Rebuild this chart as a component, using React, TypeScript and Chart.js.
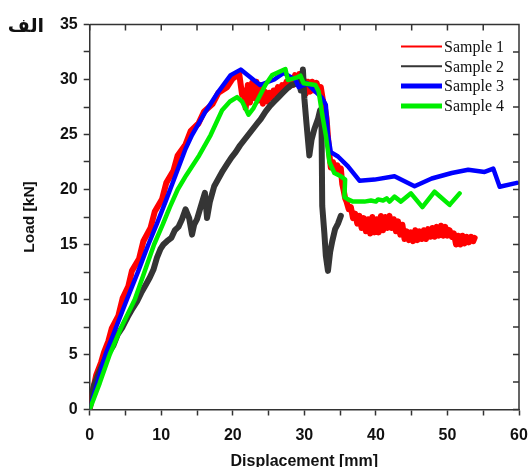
import { useEffect, useRef } from 'react';
import { Chart, registerables } from 'chart.js';

Chart.register(...registerables);

const seriesNames = ['Sample 1', 'Sample 2', 'Sample 3', 'Sample 4'];
const seriesColors = ['#ff0000', '#353535', '#0000ff', '#00ee00'];
const xTickLabels = ['0', '10', '20', '30', '40', '50', '60'];
const yTickLabels = ['0', '5', '10', '15', '20', '25', '30', '35'];
const cornerLabel = 'الف';
const xTitle = 'Displacement [mm]';
const yTitle = 'Load [kN]';

const sample1: [number, number][] = [
  [0, 0], [0.6, 2.2], [0.9, 3.1], [1.6, 4.3], [2.0, 5.2], [2.6, 6.2], [3.1, 7.4], [4.0, 8.5],
  [4.6, 10.1], [5.4, 11.2], [5.9, 12.6], [6.9, 13.7], [7.5, 15.3], [8.5, 16.5], [9.1, 18.0], [10.1, 19.1],
  [10.7, 20.6], [11.7, 21.7], [12.3, 23.1], [13.4, 24.1], [14.1, 25.3], [15.2, 26.0], [16.0, 27.1], [17.2, 27.8],
  [18.0, 28.8], [19.2, 29.3], [20.0, 30.1], [20.9, 30.5],
  [21.3, 28.6], [21.6, 29.0], [21.8, 27.4], [22.1, 29.5], [22.4, 27.9], [22.7, 29.7], [23.0, 28.3],
  [23.3, 29.8], [23.6, 28.1], [23.9, 29.5], [24.2, 27.8], [24.5, 28.9], [24.8, 28.0], [25.1, 28.8], [25.4, 28.3],
  [25.7, 29.0], [26.0, 28.7], [26.3, 29.3], [26.6, 28.9], [26.9, 29.5], [27.2, 29.1], [27.5, 29.8], [27.8, 29.3],
  [28.1, 30.1], [28.4, 29.5], [28.7, 30.4], [29.0, 29.6], [29.3, 30.5], [29.6, 29.4], [29.9, 30.0], [30.2, 28.7],
  [30.5, 29.8], [30.8, 28.9], [31.1, 29.8], [31.4, 29.0], [31.7, 29.7], [32.0, 29.1], [32.3, 29.3], [32.6, 28.1],
  [32.9, 27.3], [33.1, 26.5], [33.3, 24.8], [33.5, 23.2], [33.7, 22.0], [34.0, 22.5], [34.3, 21.7], [34.6, 22.2],
  [34.9, 21.8], [35.1, 21.9], [35.3, 20.5], [35.5, 19.9], [35.7, 19.2],
  [35.9, 18.9], [36.2, 18.2], [36.5, 18.4], [36.8, 17.4], [37.1, 17.8], [37.4, 16.9], [37.7, 17.6], [38.0, 16.5],
  [38.3, 17.4], [38.6, 16.2], [38.9, 17.3], [39.2, 16.0], [39.5, 17.5], [39.8, 16.1], [40.1, 17.3], [40.4, 16.1],
  [40.7, 17.6], [41.0, 16.3], [41.3, 17.5], [41.6, 16.5], [41.9, 17.6], [42.2, 16.5], [42.5, 17.3], [42.8, 16.2],
  [43.1, 17.1], [43.4, 15.9], [43.7, 16.8], [44.0, 15.5], [44.3, 16.2], [44.6, 15.4], [44.9, 16.1], [45.2, 15.3],
  [45.5, 16.3], [45.8, 15.4], [46.1, 16.2], [46.4, 15.5], [46.7, 16.3], [47.0, 15.5], [47.3, 16.4], [47.6, 15.7],
  [47.9, 16.5], [48.2, 15.7], [48.5, 16.6], [48.8, 15.8], [49.1, 16.7], [49.4, 15.8], [49.7, 16.6], [50.0, 15.8],
  [50.3, 16.3], [50.6, 15.7], [50.9, 16.0], [51.2, 15.0], [51.5, 15.8], [51.8, 15.0], [52.1, 15.8], [52.4, 15.1],
  [52.7, 15.7], [53.0, 15.2], [53.3, 15.7], [53.6, 15.3], [53.8, 15.6],
];

const sample2: [number, number][] = [
  [0, 0.5], [0.6, 2.2], [1.2, 3.2], [2.0, 4.4], [2.7, 5.2], [3.3, 5.8], [3.9, 6.8], [4.6, 7.5],
  [5.3, 8.4], [6.0, 9.2], [6.6, 9.8], [7.2, 10.6], [7.8, 11.3], [8.4, 12.0], [8.9, 12.7], [9.4, 13.8],
  [9.9, 14.6], [10.3, 15.0], [10.8, 15.3], [11.4, 15.6], [11.9, 16.3], [12.4, 16.6], [12.9, 17.3],
  [13.4, 18.2], [13.9, 17.4], [14.3, 15.9], [14.6, 16.8], [15.0, 17.3], [15.5, 18.4], [16.1, 19.7], [16.4, 17.4],
  [16.8, 18.9], [17.4, 20.3], [18.0, 21.0], [18.6, 21.7], [19.2, 22.3], [19.8, 22.9], [20.4, 23.4], [21.0, 24.0],
  [21.6, 24.5], [22.2, 25.0], [22.8, 25.5], [23.4, 26.0], [23.9, 26.4], [24.6, 27.1], [25.2, 27.6], [25.8, 28.0],
  [26.4, 28.4], [27.0, 28.8], [27.6, 29.2], [28.2, 29.5], [28.8, 29.6], [29.3, 29.8], [29.5, 29.0], [29.8, 30.9],
  [30.0, 28.3], [30.3, 26.0], [30.7, 23.1], [31.0, 24.5], [31.4, 25.5], [31.9, 26.4], [32.2, 27.2], [32.4, 26.0],
  [32.5, 18.5], [32.8, 16.0], [33.0, 14.0], [33.3, 12.6], [33.6, 14.3], [33.9, 15.3], [34.3, 16.4], [34.7, 16.9],
  [35.1, 17.6],
];

const sample3: [number, number][] = [
  [0, 0], [1.1, 2.5], [2.2, 5.0], [3.7, 7.5], [5.2, 10.0], [6.8, 12.6], [8.2, 15.0], [9.4, 16.9],
  [10.6, 18.9], [12.0, 21.3], [13.4, 23.7], [14.3, 24.95], [16.2, 27.1], [18.0, 28.9], [19.7, 30.4], [21.1, 30.9],
  [23.8, 29.5], [25.8, 30.0], [27.1, 30.6], [28.8, 29.95], [29.2, 29.3], [30.4, 29.65], [31.3, 29.05], [32.5, 28.3],
  [33.0, 27.7], [33.3, 25.0], [33.7, 23.4], [34.7, 23.0], [36.1, 22.1], [37.7, 20.8], [39.8, 20.9],
  [42.6, 21.2], [45.4, 20.3], [47.8, 21.0], [50.6, 21.5], [52.9, 21.8], [55.2, 21.6], [56.4, 21.9], [57.3, 20.25],
  [59.7, 20.6],
];

const sample4: [number, number][] = [
  [0, 0], [1.4, 2.4], [2.8, 5.0], [4.5, 7.6], [6.3, 10.0], [7.7, 12.6], [9.0, 15.0], [10.2, 16.8],
  [11.2, 18.4], [12.3, 20.0], [13.5, 21.3], [15.3, 23.1], [16.9, 24.95], [18.5, 27.2], [19.6, 28.0], [20.6, 28.4],
  [21.3, 28.0], [22.2, 26.8], [22.9, 27.4], [24.55, 29.5], [25.5, 30.4], [27.35, 30.95], [27.7, 29.95], [29.0, 30.2],
  [29.45, 30.35], [29.9, 29.65], [31.55, 29.5], [32.0, 28.9], [32.5, 26.8], [33.0, 24.95], [33.5, 22.5], [34.2, 21.5],
  [35.1, 21.2], [35.7, 20.9], [35.6, 19.3], [36.1, 19.1], [36.8, 18.9], [38.4, 18.9], [39.3, 19.0], [40.0, 18.9],
  [40.3, 19.1], [41.0, 19.0], [41.5, 19.2], [41.9, 18.9], [42.6, 19.35], [43.5, 18.9], [44.9, 19.65], [46.5, 18.4],
  [48.2, 19.8], [50.3, 18.6], [51.7, 19.65],
];

const seriesData = [sample1, sample2, sample3, sample4];
const lineWidths = [6, 6, 4.5, 4.5];
const legendWidths = [2, 2, 5, 5];
const drawOrder = [3, 2, 1, 0];

const AXIS = '#333333';
const SANS = '"Liberation Sans", Arial, sans-serif';

const decorPlugin = {
  id: 'decor',
  afterDraw(chart: any) {
    const { ctx, chartArea } = chart;
    const { left, right, top, bottom } = chartArea;
    const xs = chart.scales.x;
    const ys = chart.scales.y;
    ctx.save();
    ctx.strokeStyle = AXIS;
    ctx.lineWidth = 1.5;
    ctx.beginPath();
    ctx.moveTo(left, top);
    ctx.lineTo(right, top);
    ctx.lineTo(right, bottom);
    for (const t of xs.ticks) {
      const px = xs.getPixelForValue(t.value);
      ctx.moveTo(px, top);
      ctx.lineTo(px, top + 6);
    }
    for (const t of ys.ticks) {
      const py = ys.getPixelForValue(t.value);
      ctx.moveTo(right, py);
      ctx.lineTo(right - 6, py);
    }
    ctx.stroke();

    // legend
    ctx.font = '16px "Liberation Serif", "Times New Roman", serif';
    ctx.textBaseline = 'middle';
    ctx.textAlign = 'left';
    seriesNames.forEach((name, i) => {
      const y = top + 22 + i * 19.8;
      ctx.strokeStyle = seriesColors[i];
      ctx.lineWidth = legendWidths[i];
      ctx.lineCap = 'butt';
      ctx.beginPath();
      ctx.moveTo(right - 118, y);
      ctx.lineTo(right - 77, y);
      ctx.stroke();
      ctx.fillStyle = '#111';
      ctx.fillText(name, right - 75, y + 1);
    });

    // corner label
    ctx.font = 'bold 19px "DejaVu Sans", sans-serif';
    ctx.textAlign = 'center';
    ctx.fillStyle = '#111';
    ctx.fillText(cornerLabel, 26, 27);
    ctx.restore();
  },
};

export default function App() {
  const canvasRef = useRef<HTMLCanvasElement | null>(null);

  useEffect(() => {
    if (!canvasRef.current) return;
    const chart = new Chart(canvasRef.current, {
      type: 'line',
      data: {
        datasets: seriesData.map((d, i) => ({
          label: seriesNames[i],
          data: d.map(([x, y]) => ({ x, y })),
          borderColor: seriesColors[i],
          backgroundColor: seriesColors[i],
          borderWidth: lineWidths[i],
          borderJoinStyle: 'round' as const,
          borderCapStyle: 'round' as const,
          pointRadius: 0,
          tension: 0,
          fill: false,
          order: drawOrder[i],
        })),
      },
      options: {
        responsive: false,
        animation: false,
        events: [],
        layout: { padding: { top: 24.5, right: 12, bottom: 0, left: 0 } },
        plugins: {
          legend: { display: false },
          tooltip: { enabled: false },
        },
        scales: {
          x: {
            type: 'linear',
            min: 0,
            max: 60,
            afterFit: (s: any) => { s.height = 57.5; s.paddingLeft = 0; s.paddingRight = 0; },
            ticks: {
              stepSize: 5,
              autoSkip: false,
              maxRotation: 0,
              padding: 10,
              color: '#111',
              font: { family: SANS, size: 16, weight: 'bold' },
              callback: (v: any) => (xTickLabels.includes(String(v)) ? String(v) : ''),
            },
            grid: { display: true, drawOnChartArea: false, drawTicks: true, tickLength: 6, tickWidth: 1.5, tickColor: AXIS },
            border: { display: true, color: AXIS, width: 1.5 },
            title: {
              display: true,
              text: xTitle,
              color: '#111',
              font: { family: SANS, size: 16, weight: 'bold', lineHeight: 1 },
              padding: { top: 0, bottom: -3 },
            },
          },
          y: {
            type: 'linear',
            min: 0,
            max: 35,
            afterFit: (s: any) => { s.width = 89.7; },
            ticks: {
              stepSize: 2.5,
              autoSkip: false,
              padding: 6,
              color: '#111',
              font: { family: SANS, size: 16, weight: 'bold' },
              callback: (v: any) => (yTickLabels.includes(String(v)) ? String(v) : ''),
            },
            grid: { display: true, drawOnChartArea: false, drawTicks: true, tickLength: 6, tickWidth: 1.5, tickColor: AXIS },
            border: { display: true, color: AXIS, width: 1.5 },
            title: {
              display: true,
              text: yTitle,
              color: '#111',
              font: { family: SANS, size: 15.5, weight: 'bold', lineHeight: 1 },
              padding: { top: 22, bottom: 0 },
            },
          },
        },
      },
      plugins: [decorPlugin],
    });
    return () => chart.destroy();
  }, []);

  return (
    <div style={{ position: 'absolute', left: 0, top: 0, width: 531, height: 467, background: '#fff' }}>
      <canvas ref={canvasRef} width={531} height={467} />
    </div>
  );
}
